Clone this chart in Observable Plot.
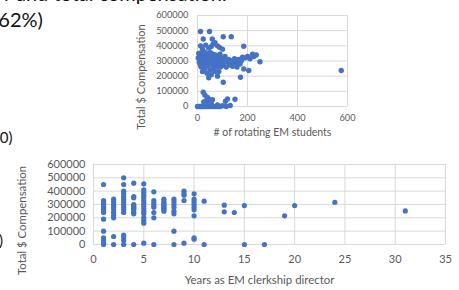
<!DOCTYPE html>
<html>
<head>
<meta charset="utf-8">
<script src="https://cdn.jsdelivr.net/npm/d3@7"></script>
<script src="https://cdn.jsdelivr.net/npm/@observablehq/plot@0.6"></script>
<style>
  html, body { margin: 0; padding: 0; background: #fff; }
  #wrap { position: relative; width: 459px; height: 290px; overflow: hidden; background: #fff; font-family: Lato, "Open Sans", sans-serif; }
  .frag { position: absolute; white-space: nowrap; color: #111; font-family: Lato, "Open Sans", sans-serif; line-height: 1; }
  #top, #bot { position: absolute; left: 0; }
  #top { top: 0; }
  #bot { top: 146px; }
</style>
</head>
<body>
<div id="wrap">
  <div class="frag" style="left:4px; top:-17px; font-size:20px;">r and total compensation.</div>
  <div class="frag" style="left:-7px; top:9px; font-size:20px;">(62%)</div>
  <div class="frag" style="left:-9px; top:130px; font-size:15px;">60)</div>
  <div class="frag" style="left:-1px; top:233px; font-size:15px;">)</div>
  <div id="top"></div>
  <div id="bot"></div>
</div>
<script>
// ---- Top chart: # of rotating EM students vs total compensation ----
const topXTicks = [0, 200, 400, 600];
const topYTicks = [0, 100000, 200000, 300000, 400000, 500000, 600000];
const topXLabel = "# of rotating EM students";
const topYLabel = "Total $ Compensation";
const topStudents = [
  12, 48, 23, 59, 103, 135,
  12, 33, 55, 62, 70, 80, 185, 88, 45, 20, 100,
  5, 10, 15, 18, 22, 25, 28, 30, 32, 35, 38, 40, 42, 45, 48, 50, 52, 55, 58, 60, 62, 65, 68, 70, 72, 75, 78, 80, 85, 88, 90, 95, 98, 100, 105, 110, 115, 120, 125, 130, 135, 140, 145, 150, 155, 160, 165, 170, 175, 180, 190, 200, 210, 220, 225, 235, 250,
  15, 20, 30, 38, 45, 50, 55, 62, 70, 80, 85, 103, 172, 185, 205, 92, 25, 8, 12,
  3, 7, 17, 27, 33, 43, 53, 63, 73, 83, 93, 108, 128, 148, 158, 168,
  23, 30, 40, 45, 50, 55, 35, 60, 25, 42, 112, 120, 150, 131, 80,
  0, 5, 10, 15, 20, 25, 30, 38, 45, 52, 60, 70, 80, 90, 100, 115,
  575
];
const topComp = [
  495000, 495000, 445000, 445000, 460000, 460000,
  400000, 405000, 395000, 410000, 420000, 400000, 397000, 390000, 385000, 380000, 378000,
  350000, 340000, 355000, 330000, 345000, 320000, 360000, 300000, 335000, 310000, 350000, 290000, 325000, 340000, 300000, 315000, 355000, 280000, 330000, 305000, 345000, 270000, 320000, 290000, 340000, 310000, 260000, 330000, 300000, 280000, 345000, 320000, 270000, 300000, 285000, 330000, 260000, 295000, 310000, 275000, 300000, 265000, 285000, 300000, 270000, 290000, 310000, 280000, 300000, 325000, 320000, 330000, 315000, 345000, 330000, 340000, 295000,
  260000, 230000, 250000, 220000, 190000, 240000, 210000, 250000, 230000, 200000, 230000, 160000, 193000, 248000, 237000, 260000, 280000, 300000, 270000,
  320000, 290000, 310000, 305000, 285000, 270000, 295000, 325000, 315000, 285000, 300000, 310000, 290000, 315000, 260000, 290000,
  94000, 75000, 60000, 50000, 35000, 20000, 40000, 45000, 30000, 20000, 35000, 50000, 48000, 7000, 10000,
  0, 0, 0, 0, 0, 0, 0, 0, 0, 0, 0, 0, 0, 0, 5000, 0,
  237000
];

// ---- Bottom chart: years as EM clerkship director vs total compensation ----
const botXTicks = [0, 5, 10, 15, 20, 25, 30, 35];
const botYTicks = [0, 100000, 200000, 300000, 400000, 500000, 600000];
const botXLabel = "Years as EM clerkship director";
const botYLabel = "Total $ Compensation";
const botYears = [
  1,1,1,1,1,1,1,1,1,1,1,1,1,1,1,1,1,
  2,2,2,2,2,2,2,2,2,2,
  3,3,3,3,3,3,3,3,3,3,3,3,3,3,3,
  4,4,4,4,4,4,4,4,4,4,4,
  5,5,5,5,5,5,5,5,5,5,5,5,5,5,5,
  6,6,6,6,6,6,6,6,
  7,7,7,7,7,7,7,7,7,
  8,8,8,8,8,8,8,8,
  9,9,9,9,9,
  10,10,10,10,10,10,10,10,10,
  11,11,
  13,13, 14, 15,15, 17, 19, 20, 24, 31
];
const botComp = [
  450000,330000,320000,310000,300000,290000,280000,270000,260000,250000,240000,190000,100000,50000,30000,10000,0,
  340000,320000,300000,280000,260000,240000,220000,200000,60000,0,
  500000,450000,400000,380000,360000,340000,320000,300000,280000,260000,240000,70000,50000,30000,0,
  460000,360000,350000,300000,290000,280000,270000,260000,240000,230000,0,
  455000,410000,390000,370000,350000,330000,310000,290000,270000,250000,230000,200000,180000,160000,10000,
  395000,330000,310000,290000,280000,240000,200000,0,
  340000,320000,310000,300000,290000,280000,270000,260000,250000,
  340000,320000,300000,280000,250000,230000,100000,0,
  400000,380000,370000,330000,10000,
  380000,340000,320000,300000,280000,260000,215000,50000,40000,
  325000,0,
  295000,245000, 240000, 292000,0, 0, 215000, 292000, 317000, 252000
];

const dotColor = "#4472c4";
const gridColor = "#d9d9d9";
const textColor = "#595959";
const fmt = d => String(d);

const topData = topStudents.map((s, i) => ({x: s, y: topComp[i]}));
const botData = botYears.map((s, i) => ({x: s, y: botComp[i]}));

const topPlot = Plot.plot({
  width: 459, height: 146,
  marginLeft: 197, marginRight: 112, marginTop: 15, marginBottom: 40,
  x: {domain: [0, 600]},
  y: {domain: [0, 600000]},
  style: {fontFamily: "Lato, 'Open Sans', sans-serif", fontSize: "9.3px", color: textColor, background: "transparent", overflow: "visible"},
  marks: [
    Plot.gridX(topXTicks, {stroke: gridColor, strokeOpacity: 1}),
    Plot.gridY(topYTicks, {stroke: gridColor, strokeOpacity: 1}),
    Plot.axisX(topXTicks, {tickSize: 0, tickPadding: 8, label: null, tickFormat: fmt}),
    Plot.axisY(topYTicks, {tickSize: 0, tickPadding: 9, label: null, tickFormat: fmt}),
    Plot.dot(topData, {x: "x", y: "y", r: 2.7, fill: dotColor, stroke: "none"}),
    Plot.text([topXLabel], {frameAnchor: "bottom", textAnchor: "middle", dy: 29, fontSize: 10.5, fill: textColor}),
    Plot.text([topYLabel], {frameAnchor: "left", textAnchor: "middle", rotate: -90, dx: -56, dy: 16, fontSize: 11, fill: textColor})
  ]
});
document.getElementById("top").appendChild(topPlot);

const botPlot = Plot.plot({
  width: 459, height: 144,
  marginLeft: 93, marginRight: 14, marginTop: 18, marginBottom: 46,
  x: {domain: [0, 35]},
  y: {domain: [0, 600000]},
  style: {fontFamily: "Lato, 'Open Sans', sans-serif", fontSize: "11px", color: textColor, background: "transparent", overflow: "visible"},
  marks: [
    Plot.gridX(botXTicks, {stroke: gridColor, strokeOpacity: 1}),
    Plot.gridY(botYTicks, {stroke: gridColor, strokeOpacity: 1}),
    Plot.axisX(botXTicks, {tickSize: 0, tickPadding: 11, label: null, tickFormat: fmt}),
    Plot.axisY(botYTicks, {tickSize: 0, tickPadding: 8, label: null, tickFormat: fmt}),
    Plot.dot(botData, {x: "x", y: "y", r: 2.6, fill: dotColor, stroke: "none"}),
    Plot.text([botXLabel], {frameAnchor: "bottom", textAnchor: "middle", dx: -10, dy: 39, fontSize: 11.4, fill: textColor}),
    Plot.text([botYLabel], {frameAnchor: "left", textAnchor: "middle", rotate: -90, dx: -71, dy: 16, fontSize: 11.4, fill: textColor})
  ]
});
document.getElementById("bot").appendChild(botPlot);
</script>
</body>
</html>
